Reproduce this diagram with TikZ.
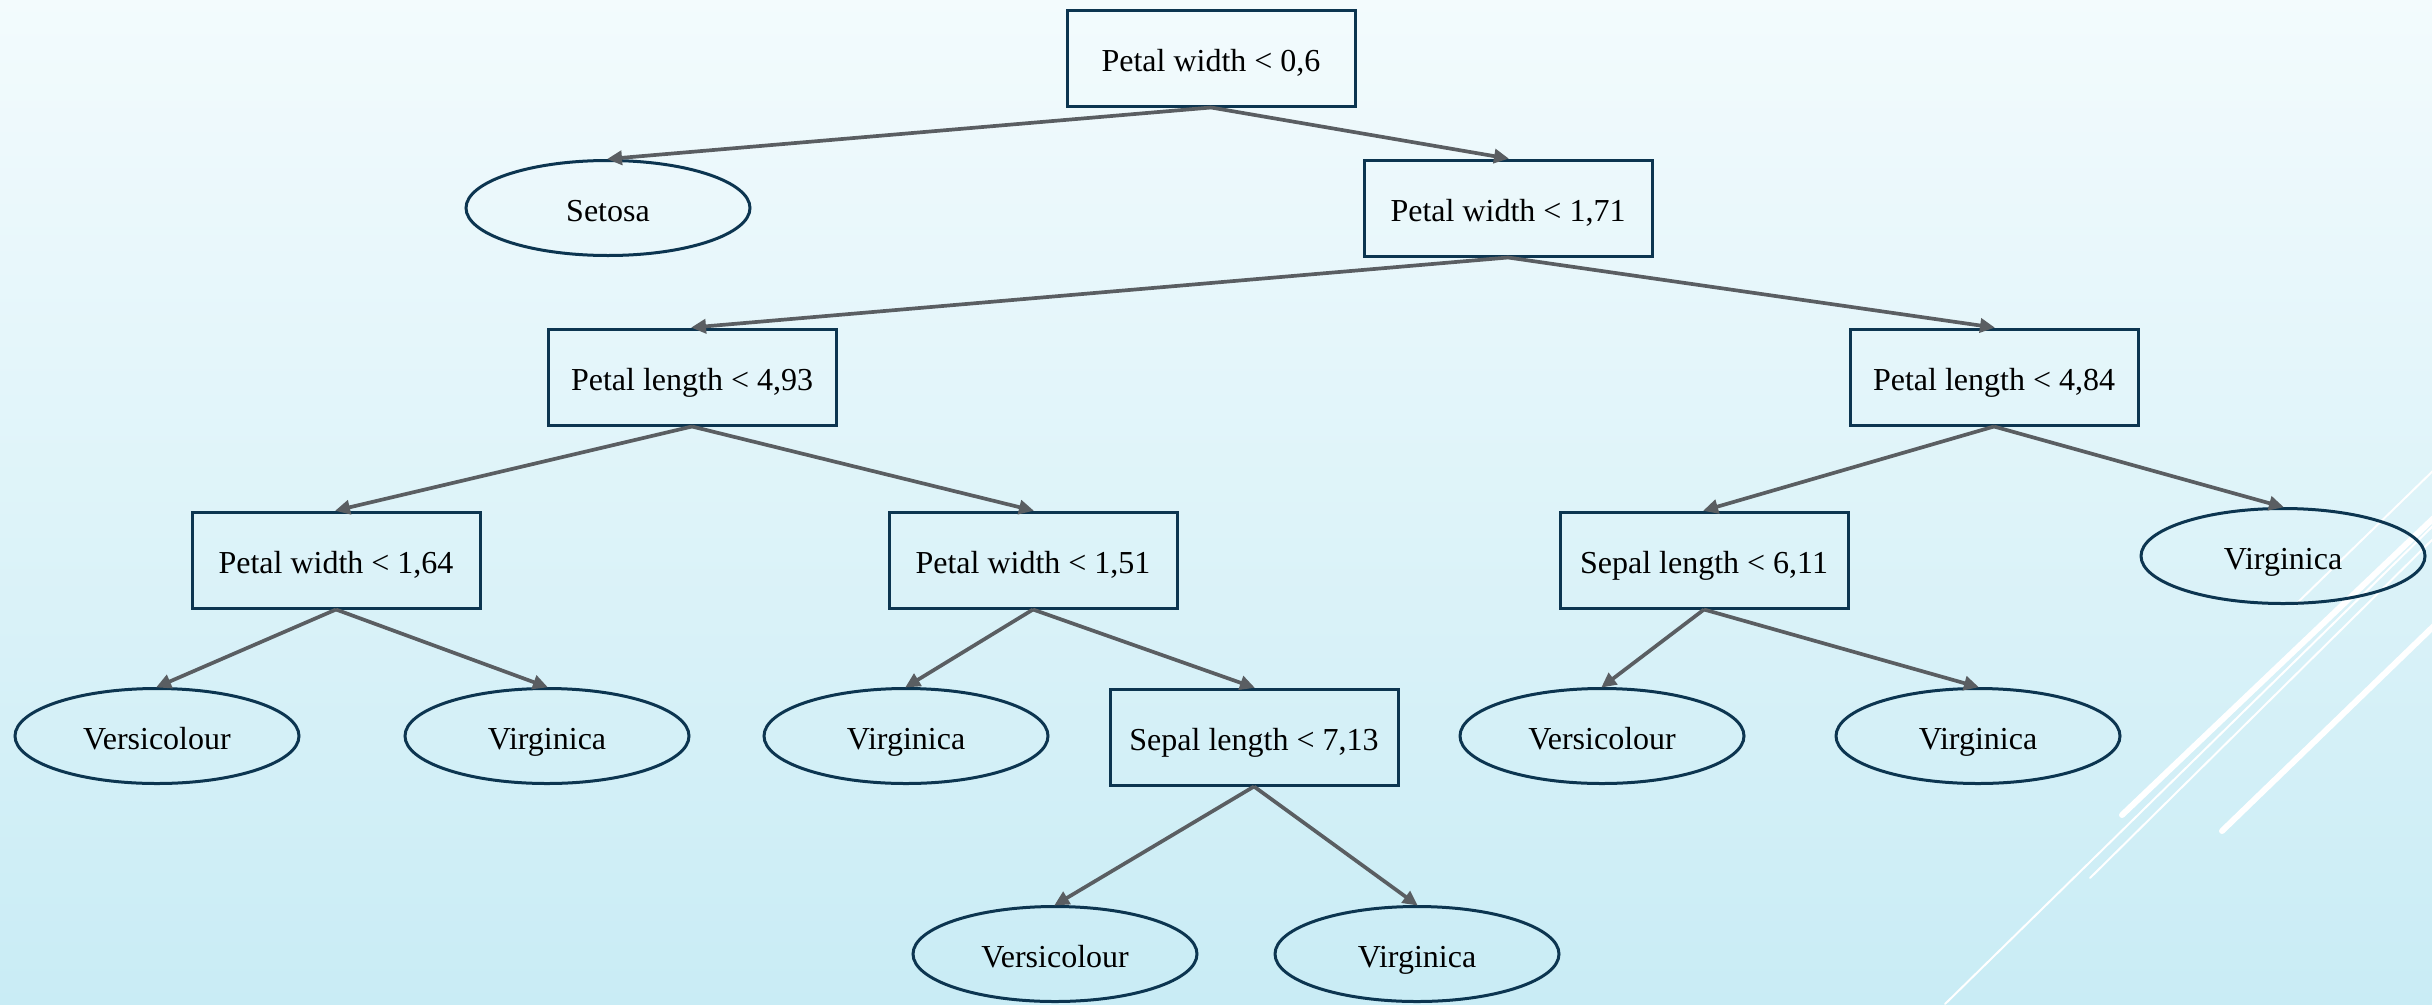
\documentclass[tikz,border=0pt]{standalone}
\usepackage{fontspec}
\setmainfont{Liberation Serif}
\usetikzlibrary{shapes.geometric,arrows.meta}
\definecolor{bordercol}{HTML}{0C3550}
\definecolor{edgecol}{HTML}{5A5E62}
\definecolor{bgtop}{HTML}{F3FBFD}
\definecolor{bgbot}{HTML}{C9ECF5}
\tikzset{
  every node/.style={font=\fontsize{32}{38}\selectfont, text=black, text height=30pt, text depth=3pt},
  testbox/.style={draw=bordercol, line width=3pt, rectangle, minimum width=288pt, minimum height=96pt, inner sep=0pt},
  leaf/.style={draw=bordercol, line width=3pt, ellipse, minimum width=284pt, minimum height=95pt, inner sep=0pt},
  edge/.style={draw=edgecol, line width=3.7pt, -{Triangle[length=15pt,width=14pt]}, shorten >=-1pt},
  deco/.style={draw=white, line cap=round},
}
\begin{document}
\begin{tikzpicture}[x=1pt,y=-1pt]
\useasboundingbox (0,0) rectangle (2432,1004);
\shade[top color=bgtop, bottom color=bgbot] (0,0) rectangle (2432,1004);
% decorative lines
\coordinate (d1a) at (2122,815); \coordinate (d1b) at (2440,512);
\coordinate (d2a) at (1945,1004); \coordinate (d2b) at (2440,519);
\coordinate (d3a) at (2090,878); \coordinate (d3b) at (2440,532);
\coordinate (d4a) at (2222,831); \coordinate (d4b) at (2440,620);
\coordinate (d5a) at (2295,605); \coordinate (d5b) at (2440,464);
\draw[deco, line width=6pt] (d1a) -- (d1b);
\draw[deco, line width=2pt] (d2a) -- (d2b);
\draw[deco, line width=2pt] (d3a) -- (d3b);
\draw[deco, line width=6pt] (d4a) -- (d4b);
\draw[deco, line width=2pt] (d5a) -- (d5b);
% nodes
\node[testbox] (t)     at (1211,58)  {Petal width < 0,6};
\node[leaf]    (seto)  at (608,208)  {Setosa};
\node[testbox] (pw171) at (1508,208) {Petal width < 1,71};
\node[testbox] (pl493) at (692,377)  {Petal length < 4,93};
\node[testbox] (pl484) at (1994,377) {Petal length < 4,84};
\node[testbox] (pw164) at (336,560)  {Petal width < 1,64};
\node[testbox] (pw151) at (1033,560) {Petal width < 1,51};
\node[testbox] (sl611) at (1704,560) {Sepal length < 6,11};
\node[leaf]    (vi1)   at (2283,556) {Virginica};
\node[leaf]    (ve1)   at (157,736)  {Versicolour};
\node[leaf]    (vi2)   at (547,736)  {Virginica};
\node[leaf]    (vi3)   at (906,736)  {Virginica};
\node[testbox] (sl713) at (1254,737) {Sepal length < 7,13};
\node[leaf]    (ve2)   at (1602,736) {Versicolour};
\node[leaf]    (vi4)   at (1978,736) {Virginica};
\node[leaf]    (ve3)   at (1055,954) {Versicolour};
\node[leaf]    (vi5)   at (1417,954) {Virginica};
% edges
\draw[edge] (t.south) -- (seto.north);
\draw[edge] (t.south) -- (pw171.north);
\draw[edge] (pw171.south) -- (pl493.north);
\draw[edge] (pw171.south) -- (pl484.north);
\draw[edge] (pl493.south) -- (pw164.north);
\draw[edge] (pl493.south) -- (pw151.north);
\draw[edge] (pl484.south) -- (sl611.north);
\draw[edge] (pl484.south) -- (vi1.north);
\draw[edge] (pw164.south) -- (ve1.north);
\draw[edge] (pw164.south) -- (vi2.north);
\draw[edge] (pw151.south) -- (vi3.north);
\draw[edge] (pw151.south) -- (sl713.north);
\draw[edge] (sl611.south) -- (ve2.north);
\draw[edge] (sl611.south) -- (vi4.north);
\draw[edge] (sl713.south) -- (ve3.north);
\draw[edge] (sl713.south) -- (vi5.north);
\end{tikzpicture}
\end{document}
